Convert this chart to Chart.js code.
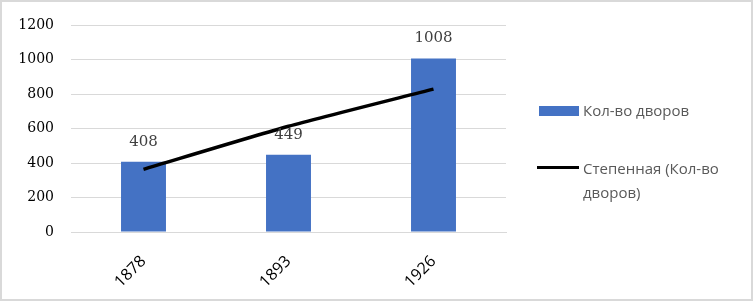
<!DOCTYPE html>
<html>
<head>
<meta charset="utf-8">
<script src="https://cdn.jsdelivr.net/npm/chart.js@4"></script>
<style>
  html,body{margin:0;padding:0;background:#fff;}
  #wrap{position:relative;width:753px;height:301px;overflow:hidden;}
  #frame{position:absolute;left:0;top:0;width:753px;height:301px;box-sizing:border-box;border:2px solid #d9d9d9;pointer-events:none;}
  canvas{position:absolute;left:0;top:0;}
  .leg{position:absolute;font-family:"Open Sans",sans-serif;font-size:15px;color:#595959;line-height:24px;}
  .sw{position:absolute;}
</style>
</head>
<body>
<div id="wrap">
  <canvas id="c" width="753" height="301"></canvas>
  <div class="sw" style="left:539px;top:106px;width:40px;height:10px;background:#4472C4;"></div>
  <div class="leg" style="left:583px;top:98px;">Кол-во дворов</div>
  <div class="sw" style="left:537px;top:166px;width:42px;height:3px;background:#000;"></div>
  <div class="leg" style="left:583px;top:156px;width:160px;">Степенная (Кол-во дворов)</div>
  <div id="frame"></div>
</div>
<script>
const categories = ["1878", "1893", "1926"];
const households = [408, 449, 1008];
const powerTrend = [364, 614, 830];
const yTicks = [0, 200, 400, 600, 800, 1000, 1200];

const labelPlugin = {
  id: 'barLabels',
  afterDatasetsDraw(chart) {
    const ctx = chart.ctx;
    const meta = chart.getDatasetMeta(1);
    ctx.save();
    ctx.font = '15px "DejaVu Serif", serif';
    ctx.fillStyle = '#404040';
    ctx.textAlign = 'center';
    ctx.textBaseline = 'middle';
    meta.data.forEach((bar, i) => {
      ctx.fillText(String(households[i]), bar.x, bar.y - 20);
    });
    ctx.restore();
  }
};

new Chart(document.getElementById('c'), {
  data: {
    labels: categories,
    datasets: [
      {
        type: 'line',
        label: 'Степенная (Кол-во дворов)',
        data: powerTrend,
        borderColor: '#000',
        borderWidth: 3.5,
        pointRadius: 0,
        tension: 0.2,
        fill: false,
        order: 0
      },
      {
        type: 'bar',
        label: 'Кол-во дворов',
        data: households,
        backgroundColor: '#4472C4',
        categoryPercentage: 1,
        barPercentage: 0.31,
        order: 1
      }
    ]
  },
  options: {
    responsive: false,
    animation: false,
    devicePixelRatio: 1,
    layout: { padding: { left: 0, right: 247, top: 24, bottom: 0 } },
    plugins: { legend: { display: false }, tooltip: { enabled: false } },
    scales: {
      x: {
        grid: { display: false, drawTicks: false },
        border: { color: '#d9d9d9', width: 1 },
        ticks: {
          color: '#000',
          font: { family: '"Open Sans", sans-serif', size: 16 },
          minRotation: 45, maxRotation: 45, padding: 20
        },
        afterFit(s) { s.height = 69; }
      },
      y: {
        min: 0, max: 1200,
        afterBuildTicks(s) { s.ticks = yTicks.map(v => ({ value: v })); },
        grid: { color: '#d9d9d9', drawTicks: false },
        border: { display: false },
        ticks: {
          color: '#000',
          font: { family: '"DejaVu Serif", serif', size: 14 },
          padding: 17,
          callback: (v) => String(v)
        },
        afterFit(s) { s.width = 71; }
      }
    }
  },
  plugins: [labelPlugin]
});
</script>
</body>
</html>
